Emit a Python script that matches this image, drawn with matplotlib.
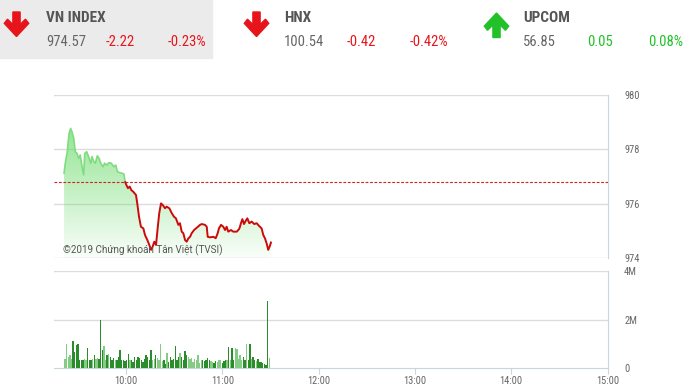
import numpy as np
import matplotlib
matplotlib.use("Agg")
import matplotlib.pyplot as plt
from matplotlib import font_manager
from matplotlib.patches import Polygon, Rectangle

names = {f.name for f in font_manager.fontManager.ttflist}
NARROW = "Roboto"
for cand in ["Roboto Condensed", "Liberation Sans Narrow", "Open Sans Condensed"]:
    if cand in names:
        NARROW = cand
        break
IS_NARROW = NARROW != "Roboto"
REG = "Roboto" if "Roboto" in names else "DejaVu Sans"

# ---------------- data ----------------
header_names = ["VN INDEX", "HNX", "UPCOM"]
header_values = ["974.57", "100.54", "56.85"]
header_changes = ["-2.22", "-0.42", "0.05"]
header_pcts = ["-0.23%", "-0.42%", "0.08%"]
header_up = [False, False, True]

reference_price = 976.79

# minutes after 9:00
price_minutes = [21.4, 22.2, 23.4, 24.5, 25.5, 26.3, 27.4, 28.4, 29.5, 30.5, 31.5, 32.6, 33.6, 34.3,
                 35.5, 36.7, 38.0, 38.8, 39.9, 40.9, 42.1, 43.2, 44.2, 45.7, 46.7, 48.1, 49.4, 50.8,
                 52.3, 53.6, 54.6, 56.1, 57.5, 58.7, 59.4, 60.2, 61.2, 62.3, 63.3, 64.5, 66.2, 67.0,
                 68.1, 69.3, 70.8, 71.8, 73.3, 74.5, 75.6, 76.6, 77.6, 78.7, 79.7, 80.7, 81.8, 82.9,
                 84.3, 85.3, 87.0, 88.5, 89.9, 91.1, 92.6, 93.6, 94.7, 95.7, 96.8, 97.8, 98.8, 99.9,
                 100.9, 102.4, 104.4, 106.1, 107.2, 109.2, 110.3, 110.9, 112.3, 114.4, 115.9, 117.1,
                 117.9, 119.2, 120.6, 121.7, 122.7, 123.7, 125.4, 126.8, 129.0, 130.4, 131.0, 131.6,
                 132.5, 133.5, 134.6, 135.6, 136.8, 138.3, 139.9, 141.4, 142.9, 144.5, 145.5, 146.6,
                 147.6, 148.6, 149.5, 150.3]
price_values = [977.12, 977.51, 977.91, 978.59, 978.77, 978.65, 978.41, 977.91, 977.85, 977.67, 977.79,
                977.36, 977.06, 977.85, 977.91, 977.73, 977.49, 977.73, 977.55, 977.49, 977.76, 977.67,
                977.49, 977.36, 977.49, 977.42, 977.51, 977.49, 977.36, 977.42, 977.18, 977.14, 977.12,
                977.09, 976.81, 976.69, 976.57, 976.63, 976.50, 976.44, 976.32, 976.01, 975.52, 975.15,
                975.09, 974.85, 974.66, 974.48, 974.30, 974.42, 974.60, 974.48, 975.09, 975.65, 976.01,
                975.95, 975.83, 975.89, 975.83, 975.65, 975.52, 975.46, 975.22, 975.28, 974.97, 974.91,
                974.66, 974.60, 974.72, 974.78, 974.91, 975.03, 975.13, 975.22, 975.25, 975.22, 975.15,
                974.78, 974.76, 974.78, 974.73, 974.91, 975.09, 975.22, 975.15, 975.03, 975.15, 974.97,
                975.03, 974.97, 974.97, 975.06, 975.15, 975.28, 975.43, 975.25, 975.37, 975.46, 975.28,
                975.34, 975.25, 975.28, 975.18, 975.09, 974.85, 974.72, 974.54, 974.30, 974.42, 974.57]

volume_start_minute = 22  # 9:22, one bar per minute
volume_millions = [0.38, 1.01, 0.45, 0.55, 0.38, 1.13, 0.66, 0.94, 1.01, 0.34, 0.31, 0.34, 0.38, 0.35,
                   0.83, 0.34, 0.35, 0.38, 0.52, 0.38, 0.41, 0.38, 1.97, 0.73, 0.92, 0.34, 0.52, 0.59,
                   0.45, 0.31, 0.41, 0.34, 0.31, 0.45, 0.73, 0.31, 0.35, 0.28, 0.31, 0.59, 0.31, 0.35,
                   0.24, 0.45, 0.31, 0.45, 0.41, 0.35, 0.24, 0.38, 0.52, 0.45, 0.35, 0.73, 0.31, 0.38,
                   0.55, 0.41, 0.35, 1.00,
                   0.27, 0.31, 0.17, 0.62, 0.24, 0.45, 0.31, 0.38, 0.90, 0.31, 0.45, 0.63, 0.45, 0.31,
                   0.72, 0.52, 0.45, 0.38, 0.41, 0.24, 0.38, 0.31, 0.55, 0.21, 0.31, 0.35, 0.27, 0.31,
                   0.41, 0.34, 0.27, 0.24, 0.21, 0.27, 0.24, 0.31, 0.34, 0.21, 0.27, 0.31, 0.35, 0.87,
                   0.31, 0.83, 0.31, 0.83, 0.80, 0.38, 0.52, 0.31, 0.45, 0.31, 0.97, 0.35, 0.97, 0.38,
                   0.45, 0.35, 0.27, 0.38, 0.24, 0.24, 0.21, 0.17, 0.13, 2.77, 0.41]

hour_labels = ["10:00", "11:00", "12:00", "13:00", "14:00", "15:00"]
price_ticks = [974, 976, 978, 980]
volume_ticks = [0, 2, 4]
volume_tick_labels = ["0", "2M", "4M"]
copyright_text = "©2019 Chứng khoán Tân Việt (TVSI)"

# ---------------- figure ----------------
W, H = 689, 389
fig = plt.figure(figsize=(W / 100, H / 100), dpi=100)
fig.patch.set_facecolor("white")

over = fig.add_axes([0, 0, 1, 1], zorder=0)
over.set_xlim(0, W)
over.set_ylim(H, 0)
over.axis("off")
over.patch.set_alpha(0)

RED = "#e8141b"
GREEN = "#22c12a"
TXT = "#666666"

over.add_patch(Rectangle((0, 0), 212, 58, color="#ebebeb", zorder=0))


def arrow(cx, ty, up, color):
    pts = [(-3.6, 0), (3.6, 0), (3.6, 12.5), (9, 7.2), (12.2, 11.4), (0, 24.5),
           (-12.2, 11.4), (-9, 7.2), (-3.6, 12.5)]
    if up:
        pts = [(x, 24.5 - y) for x, y in pts]
    over.add_patch(Polygon([(cx + x, ty + y) for x, y in pts], closed=True,
                           color=color, zorder=2))


hs_name = 11 if IS_NARROW else 9.6
hs_num = 10.5 if IS_NARROW else 9.0
xs_name = [46, 284, 523]
xs_chg = [106, 347, 587]
xs_pct = [168, 410, 648]
arrow_cx = [16.5, 256.5, 496.5]
for i in range(3):
    col = GREEN if header_up[i] else RED
    arrow(arrow_cx[i], 12 if not header_up[i] else 13, header_up[i], col)
    over.text(xs_name[i], 18, header_names[i], family=NARROW, fontweight="bold",
              fontsize=hs_name, color="#555555", va="center", ha="left")
    over.text(xs_name[i], 42, header_values[i], family=NARROW, fontsize=hs_num,
              color=TXT, va="center", ha="left")
    over.text(xs_chg[i], 42, header_changes[i], family=NARROW, fontsize=hs_num,
              color=col, va="center", ha="left")
    over.text(xs_pct[i], 42, header_pcts[i], family=NARROW, fontsize=hs_num,
              color=col, va="center", ha="left")

x0, x1 = 53.8, 607.5
t_min, t_max = 15, 360
GRID = "#dcdcdc"
SPINE = "#c9d6de"
ts = 7.5 if IS_NARROW else 7.0

# ---------------- price panel ----------------
axp = fig.add_axes([x0 / W, (H - 258) / H, (x1 - x0) / W, (258 - 95) / H], zorder=2)
axp.patch.set_alpha(0)
axp.set_xlim(t_min, t_max)
axp.set_ylim(974, 980)
for s in ["left", "top", "bottom"]:
    axp.spines[s].set_visible(False)
axp.spines["right"].set_color(SPINE)
axp.yaxis.tick_right()
axp.set_yticks(price_ticks)
axp.set_yticklabels([str(v) for v in price_ticks], family=NARROW, fontsize=ts, color=TXT)
axp.tick_params(axis="y", length=0, pad=12)
axp.set_xticks([])
for v in price_ticks:
    axp.axhline(v, color=GRID, lw=1, zorder=1)

t = np.array(price_minutes, dtype=float)
p = np.array(price_values, dtype=float)

# gradient fill under the line
poly = axp.fill_between(t, p, 974, color="none", lw=0)
grad = np.linspace(0, 1, 256).reshape(-1, 1)
rgba = np.zeros((256, 1, 4))
rgba[..., 0] = 0.42
rgba[..., 1] = 0.86
rgba[..., 2] = 0.42
rgba[..., 3] = 0.04 + 0.72 * grad[::-1] ** 1.0
img = axp.imshow(rgba, extent=[t_min, t_max, 974, 979.0], origin="upper",
                 aspect="auto", zorder=2, interpolation="bilinear")
path = poly.get_paths()[0]
img.set_clip_path(path, transform=axp.transData)
axp.set_xlim(t_min, t_max)
axp.set_ylim(974, 980)

# split line at reference price
tt, pp = [t[0]], [p[0]]
for i in range(1, len(t)):
    if (p[i - 1] - reference_price) * (p[i] - reference_price) < 0:
        f = (reference_price - p[i - 1]) / (p[i] - p[i - 1])
        tt.append(t[i - 1] + f * (t[i] - t[i - 1]))
        pp.append(reference_price)
    tt.append(t[i])
    pp.append(p[i])
tt, pp = np.array(tt), np.array(pp)
above = np.where(pp >= reference_price - 1e-9, pp, np.nan)
below = np.where(pp <= reference_price + 1e-9, pp, np.nan)
axp.plot(tt, above, color="#7fdc7f", lw=1.2, zorder=4)
axp.plot(tt, below, color="#cc0a0a", lw=1.4, zorder=4)
axp.axhline(reference_price, color="#cc2222", lw=0.8, ls=(0, (2.5, 1.5)), zorder=3)

axp.text((63 - x0) / (x1 - x0), (258 - 250) / (258 - 95), copyright_text,
         transform=axp.transAxes, family=REG, fontsize=7.1, color="#555555",
         va="center", ha="left", zorder=5)

# ---------------- volume panel ----------------
axv = fig.add_axes([x0 / W, (H - 368) / H, (x1 - x0) / W, (368 - 271) / H], zorder=2)
axv.patch.set_alpha(0)
axv.set_xlim(t_min, t_max)
axv.set_ylim(0, 4)
for s in ["left", "top"]:
    axv.spines[s].set_visible(False)
axv.spines["right"].set_color(SPINE)
axv.spines["bottom"].set_color(SPINE)
axv.yaxis.tick_right()
axv.set_yticks(volume_ticks)
axv.set_yticklabels(volume_tick_labels, family=NARROW, fontsize=ts, color=TXT)
axv.tick_params(axis="y", length=0, pad=12)
hours = [60, 120, 180, 240, 300, 360]
axv.set_xticks(hours)
axv.set_xticklabels(hour_labels, family=NARROW, fontsize=ts, color=TXT)
axv.tick_params(axis="x", length=4, color=SPINE, pad=2)
for v in volume_ticks[1:]:
    axv.axhline(v, color=GRID, lw=1, zorder=1)

vm = volume_start_minute + np.arange(len(volume_millions)) * 1.01
pnow = np.interp(vm, t, p)
pprev = np.interp(vm - 1, t, p)
cols = ["#2a8c2a" if a < b else "#84cc84" for a, b in zip(pnow, pprev)]
axv.bar(vm, volume_millions, width=0.85, color=cols, lw=0, zorder=3)

fig.savefig("out.png", dpi=100)
